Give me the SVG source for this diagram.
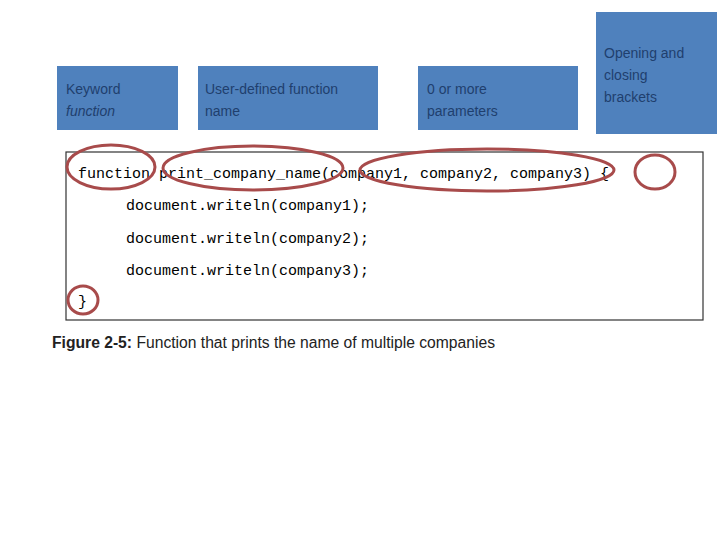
<svg xmlns="http://www.w3.org/2000/svg" width="720" height="540" viewBox="0 0 720 540">
<style>
.box{fill:#4f81bd}
.lbl{font-family:"Liberation Sans",sans-serif;font-size:14px;fill:#1f3f6e}
.code{font-family:"Liberation Mono",monospace;font-size:15px;fill:#000}
.ring{fill:none;stroke:#a84b4b;stroke-width:3}
</style>
<rect width="720" height="540" fill="#fff"/>
<g id="kw"><rect class="box" x="57" y="66" width="121" height="64"/><text class="lbl" x="66" y="94">Keyword</text><text class="lbl" x="66" y="116" font-style="italic">function</text></g>
<g id="name"><rect class="box" x="198" y="66" width="180" height="64"/><text class="lbl" x="205" y="94">User-defined function</text><text class="lbl" x="205" y="116">name</text></g>
<g id="params"><rect class="box" x="418" y="66" width="160" height="64"/><text class="lbl" x="427" y="94">0 or more</text><text class="lbl" x="427" y="116">parameters</text></g>
<g id="brackets"><rect class="box" x="596" y="12" width="121" height="122"/><text class="lbl" x="604" y="58">Opening and</text><text class="lbl" x="604" y="80">closing</text><text class="lbl" x="604" y="102">brackets</text></g>
<g id="code">
<rect x="66" y="152" width="637" height="168" fill="#fff" stroke="#333" stroke-width="1.2"/>
<text class="code" x="78" y="178">function print_company_name(company1, company2, company3) {</text>
<text class="code" x="126" y="210">document.writeln(company1);</text>
<text class="code" x="126" y="243">document.writeln(company2);</text>
<text class="code" x="126" y="275">document.writeln(company3);</text>
<text class="code" x="78" y="306">}</text>
</g>
<g id="connectors">
<ellipse class="ring" cx="111" cy="167" rx="44" ry="22"/>
<ellipse class="ring" cx="253" cy="168" rx="90" ry="22"/>
<ellipse class="ring" cx="487" cy="170" rx="127" ry="21"/>
<ellipse class="ring" cx="655" cy="172" rx="20" ry="17"/>
<ellipse class="ring" cx="83" cy="300" rx="15" ry="14"/>
</g>
<g id="caption"><text x="52" y="348" font-family="Liberation Sans Narrow,Liberation Sans,sans-serif" font-stretch="condensed" font-size="16" fill="#222" textLength="443" lengthAdjust="spacingAndGlyphs"><tspan font-weight="bold">Figure 2-5:</tspan> Function that prints the name of multiple companies</text></g>
</svg>
